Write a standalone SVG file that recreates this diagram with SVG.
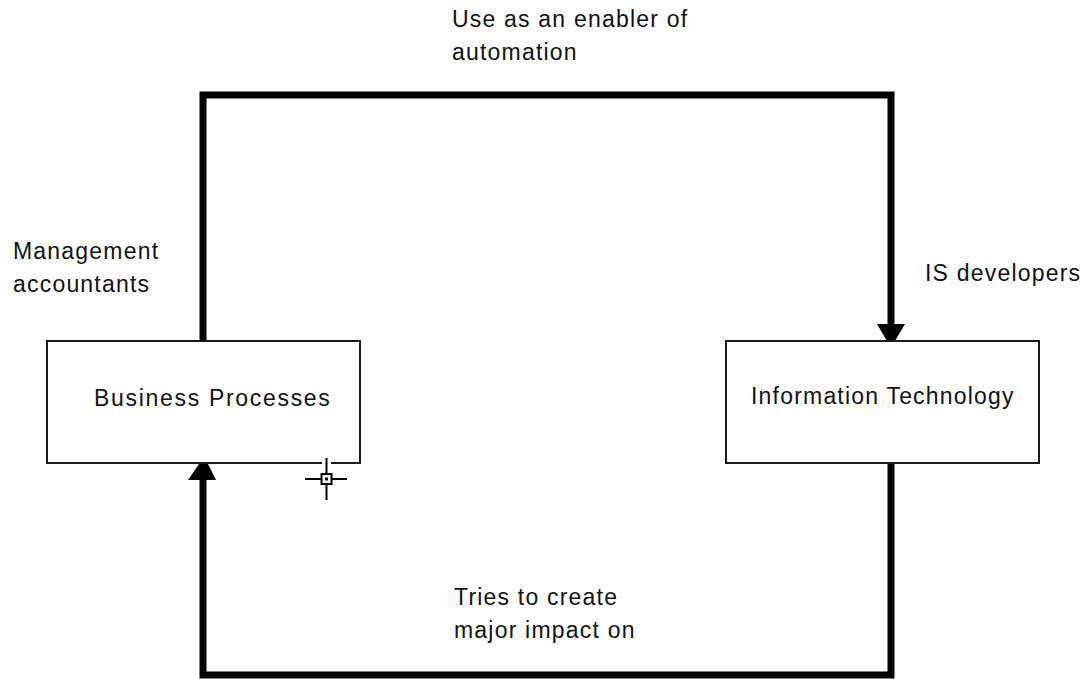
<svg xmlns="http://www.w3.org/2000/svg" width="1086" height="679" viewBox="0 0 1086 679">
  <style>
    .box { fill: #ffffff; stroke: #1a1a1a; stroke-width: 2; }
    .lbl { font-family: "Liberation Sans", Arial, sans-serif; font-size: 23px; letter-spacing: 1.2px; fill: #111111; }
    .flow { fill: none; stroke: #000000; stroke-width: 7; stroke-linejoin: miter; stroke-linecap: butt; }
    .head { fill: #000000; }
    .cur { stroke: #000000; stroke-width: 2; fill: none; }
  </style>
  <rect width="1086" height="679" fill="#ffffff"/>

  <!-- connectors -->
  <g id="connectors">
    <!-- Business Processes -> Information Technology (over the top) -->
    <path class="flow" d="M203,341 V95 H891 V325"/>
    <polygon class="head" points="877,324 905,324 895,341 887,341"/>
    <!-- Information Technology -> Business Processes (along the bottom) -->
    <path class="flow" d="M891,463 V675 H203 V479"/>
    <polygon class="head" points="199,464 208,464 216,480 188,480"/>
  </g>

  <!-- nodes -->
  <g id="node-business-processes">
    <rect class="box" x="47" y="341" width="313" height="122"/>
    <text class="lbl" x="94" y="406" textLength="237">Business Processes</text>
  </g>
  <g id="node-information-technology">
    <rect class="box" x="726" y="341" width="313" height="122"/>
    <text class="lbl" x="751" y="404">Information Technology</text>
  </g>

  <!-- edge labels -->
  <g id="labels">
    <text class="lbl" x="452" y="27">Use as an enabler of</text>
    <text class="lbl" x="452" y="60">automation</text>
    <text class="lbl" x="13" y="259">Management</text>
    <text class="lbl" x="13" y="292">accountants</text>
    <text class="lbl" x="925" y="281">IS developers</text>
    <text class="lbl" x="454" y="605">Tries to create</text>
    <text class="lbl" x="454" y="638">major impact on</text>
  </g>

  <!-- crosshair pointer -->
  <g id="pointer">
    <rect x="322" y="461" width="9" height="4" fill="#ffffff"/>
    <line class="cur" x1="326.5" y1="458" x2="326.5" y2="500"/>
    <line class="cur" x1="305" y1="479" x2="347" y2="479"/>
    <rect x="321.5" y="474" width="10" height="10" fill="#ffffff" stroke="#000000" stroke-width="2"/>
    <rect x="325" y="477.5" width="3" height="3" fill="#000000"/>
  </g>
</svg>
